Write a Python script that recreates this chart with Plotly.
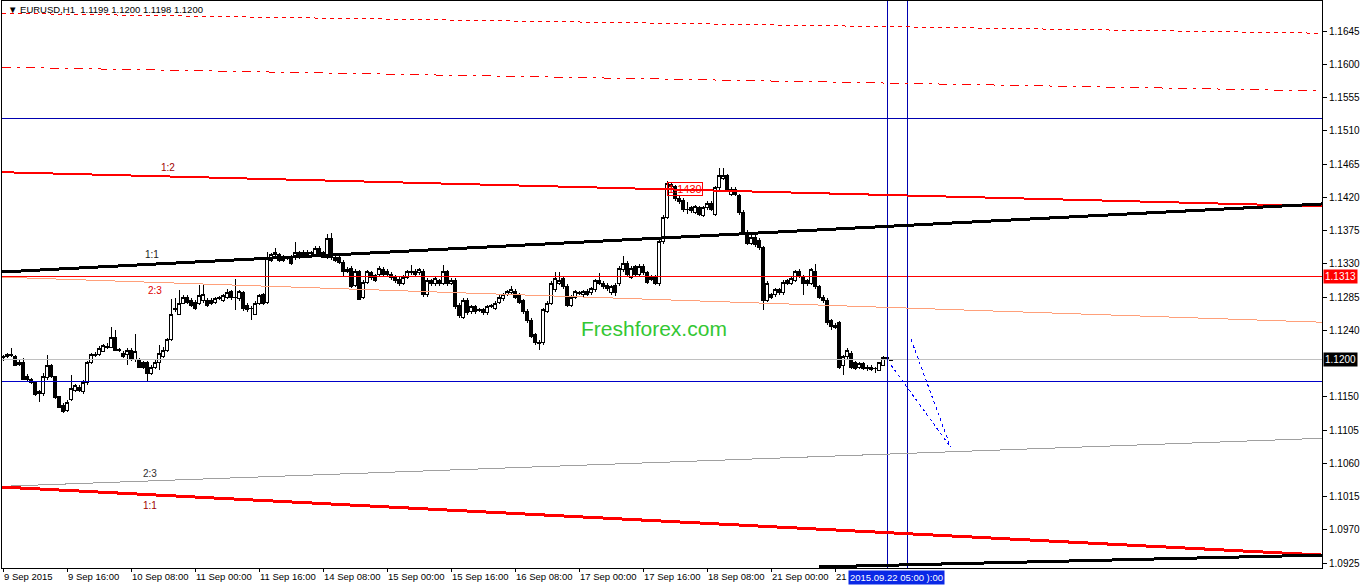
import plotly.graph_objects as go

# ---------------- data (EURUSD H1, bar index 0 = 9 Sep 2015 00:00) ----------------
opens = [
    1.1203, 1.1204, 1.1207, 1.1205, 1.1194, 1.1197, 1.1178, 1.1173, 1.1169, 1.1157,
    1.1154, 1.1176, 1.1193, 1.1177, 1.1150, 1.1139, 1.1132, 1.1146, 1.1159, 1.1163,
    1.1157, 1.1169, 1.1196, 1.1207, 1.1208, 1.1212, 1.1218, 1.1217, 1.1231, 1.1213,
    1.1209, 1.1208, 1.1213, 1.1200, 1.1200, 1.1196, 1.1196, 1.1182, 1.1190, 1.1196,
    1.1205, 1.1213, 1.1227, 1.1270, 1.1262, 1.1277, 1.1285, 1.1281, 1.1278, 1.1277,
    1.1280, 1.1281, 1.1281, 1.1278, 1.1284, 1.1281, 1.1285, 1.1292, 1.1285, 1.1283,
    1.1291, 1.1274, 1.1270, 1.1262, 1.1277, 1.1288, 1.1278, 1.1335, 1.1342, 1.1342,
    1.1339, 1.1338, 1.1339, 1.1338, 1.1345, 1.1342, 1.1346, 1.1345, 1.1342, 1.1351,
    1.1345, 1.1338, 1.1364, 1.1339, 1.1338, 1.1332, 1.1320, 1.1324, 1.1301, 1.1319,
    1.1285, 1.1305, 1.1318, 1.1314, 1.1315, 1.1323, 1.1320, 1.1316, 1.1312, 1.1309,
    1.1304, 1.1312, 1.1319, 1.1320, 1.1318, 1.1320, 1.1288, 1.1307, 1.1303, 1.1307,
    1.1304, 1.1319, 1.1304, 1.1308, 1.1274, 1.1258, 1.1281, 1.1265, 1.1272, 1.1268,
    1.1268, 1.1264, 1.1273, 1.1270, 1.1278, 1.1283, 1.1289, 1.1291, 1.1293, 1.1288,
    1.1280, 1.1266, 1.1254, 1.1234, 1.1223, 1.1223, 1.1265, 1.1277, 1.1295, 1.1304,
    1.1310, 1.1300, 1.1274, 1.1285, 1.1291, 1.1288, 1.1293, 1.1291, 1.1295, 1.1308,
    1.1304, 1.1301, 1.1291, 1.1301, 1.1303, 1.1322, 1.1331, 1.1312, 1.1326, 1.1315,
    1.1327, 1.1318, 1.1309, 1.1312, 1.1303, 1.1360, 1.1393, 1.1434, 1.1434, 1.1419,
    1.1416, 1.1404, 1.1406, 1.1400, 1.1406, 1.1396, 1.1406, 1.1412, 1.1397, 1.1433,
    1.1446, 1.1449, 1.1424, 1.1431, 1.1422, 1.1400, 1.1373, 1.1358, 1.1366, 1.1362,
    1.1352, 1.1281, 1.1288, 1.1288, 1.1295, 1.1291, 1.1307, 1.1304, 1.1308, 1.1320,
    1.1312, 1.1307, 1.1304, 1.1320, 1.1299, 1.1285, 1.1281, 1.1253, 1.1247, 1.1250,
    1.1192, 1.1204, 1.1209, 1.1196, 1.1190, 1.1195, 1.1190, 1.1190, 1.1189, 1.1186,
    1.1193, 1.1203, 1.1199,
]
highs = [
    1.1207, 1.1209, 1.1216, 1.1207, 1.1200, 1.1203, 1.1181, 1.1176, 1.1170, 1.1159,
    1.1182, 1.1207, 1.1195, 1.1178, 1.1151, 1.1142, 1.1146, 1.1180, 1.1168, 1.1166,
    1.1173, 1.1199, 1.1209, 1.1211, 1.1219, 1.1221, 1.1223, 1.1245, 1.1240, 1.1216,
    1.1212, 1.1216, 1.1216, 1.1235, 1.1203, 1.1199, 1.1199, 1.1193, 1.1200, 1.1220,
    1.1217, 1.1230, 1.1283, 1.1284, 1.1295, 1.1288, 1.1288, 1.1284, 1.1281, 1.1301,
    1.1301, 1.1284, 1.1284, 1.1285, 1.1286, 1.1289, 1.1296, 1.1295, 1.1310, 1.1295,
    1.1293, 1.1277, 1.1273, 1.1280, 1.1289, 1.1291, 1.1346, 1.1345, 1.1351, 1.1345,
    1.1342, 1.1341, 1.1342, 1.1360, 1.1347, 1.1349, 1.1349, 1.1347, 1.1354, 1.1354,
    1.1347, 1.1370, 1.1372, 1.1342, 1.1341, 1.1335, 1.1326, 1.1327, 1.1323, 1.1322,
    1.1308, 1.1322, 1.1320, 1.1316, 1.1327, 1.1326, 1.1323, 1.1319, 1.1315, 1.1312,
    1.1315, 1.1322, 1.1328, 1.1323, 1.1324, 1.1323, 1.1311, 1.1310, 1.1312, 1.1310,
    1.1328, 1.1322, 1.1311, 1.1311, 1.1277, 1.1284, 1.1284, 1.1274, 1.1274, 1.1270,
    1.1270, 1.1274, 1.1276, 1.1280, 1.1288, 1.1291, 1.1295, 1.1300, 1.1296, 1.1291,
    1.1283, 1.1269, 1.1257, 1.1236, 1.1227, 1.1270, 1.1280, 1.1307, 1.1319, 1.1319,
    1.1312, 1.1303, 1.1288, 1.1295, 1.1293, 1.1295, 1.1296, 1.1299, 1.1310, 1.1317,
    1.1307, 1.1304, 1.1301, 1.1304, 1.1327, 1.1341, 1.1334, 1.1327, 1.1328, 1.1330,
    1.1330, 1.1320, 1.1315, 1.1315, 1.1362, 1.1396, 1.1442, 1.1441, 1.1437, 1.1422,
    1.1419, 1.1414, 1.1408, 1.1410, 1.1408, 1.1408, 1.1415, 1.1415, 1.1435, 1.1460,
    1.1460, 1.1452, 1.1434, 1.1434, 1.1424, 1.1403, 1.1376, 1.1369, 1.1369, 1.1365,
    1.1354, 1.1307, 1.1291, 1.1297, 1.1297, 1.1308, 1.1310, 1.1312, 1.1322, 1.1323,
    1.1315, 1.1310, 1.1324, 1.1330, 1.1301, 1.1288, 1.1284, 1.1255, 1.1250, 1.1253,
    1.1207, 1.1216, 1.1212, 1.1199, 1.1197, 1.1197, 1.1193, 1.1193, 1.1191, 1.1197,
    1.1205, 1.1207, 1.1200,
]
lows = [
    1.1199, 1.1203, 1.1204, 1.1192, 1.1192, 1.1173, 1.1171, 1.1167, 1.1151, 1.1143,
    1.1151, 1.1173, 1.1176, 1.1147, 1.1135, 1.1128, 1.1130, 1.1144, 1.1157, 1.1157,
    1.1154, 1.1166, 1.1195, 1.1204, 1.1205, 1.1211, 1.1215, 1.1216, 1.1212, 1.1211,
    1.1203, 1.1193, 1.1199, 1.1197, 1.1189, 1.1188, 1.1170, 1.1180, 1.1188, 1.1186,
    1.1203, 1.1211, 1.1226, 1.1265, 1.1261, 1.1276, 1.1276, 1.1272, 1.1268, 1.1274,
    1.1277, 1.1272, 1.1274, 1.1276, 1.1281, 1.1278, 1.1283, 1.1281, 1.1268, 1.1280,
    1.1266, 1.1265, 1.1254, 1.1261, 1.1274, 1.1274, 1.1276, 1.1332, 1.1339, 1.1332,
    1.1332, 1.1335, 1.1328, 1.1335, 1.1337, 1.1339, 1.1339, 1.1342, 1.1339, 1.1339,
    1.1338, 1.1337, 1.1335, 1.1332, 1.1330, 1.1312, 1.1318, 1.1297, 1.1299, 1.1281,
    1.1282, 1.1303, 1.1308, 1.1305, 1.1312, 1.1312, 1.1312, 1.1308, 1.1304, 1.1300,
    1.1301, 1.1309, 1.1315, 1.1312, 1.1315, 1.1285, 1.1285, 1.1300, 1.1300, 1.1300,
    1.1301, 1.1300, 1.1301, 1.1269, 1.1257, 1.1256, 1.1261, 1.1262, 1.1262, 1.1265,
    1.1261, 1.1261, 1.1270, 1.1268, 1.1276, 1.1280, 1.1287, 1.1288, 1.1283, 1.1276,
    1.1262, 1.1250, 1.1230, 1.1220, 1.1213, 1.1220, 1.1263, 1.1274, 1.1292, 1.1301,
    1.1296, 1.1272, 1.1272, 1.1282, 1.1288, 1.1285, 1.1287, 1.1288, 1.1292, 1.1301,
    1.1296, 1.1293, 1.1288, 1.1286, 1.1300, 1.1319, 1.1312, 1.1310, 1.1312, 1.1312,
    1.1315, 1.1303, 1.1307, 1.1301, 1.1300, 1.1357, 1.1391, 1.1431, 1.1415, 1.1411,
    1.1400, 1.1397, 1.1399, 1.1397, 1.1395, 1.1393, 1.1403, 1.1401, 1.1395, 1.1430,
    1.1443, 1.1427, 1.1422, 1.1422, 1.1396, 1.1369, 1.1356, 1.1356, 1.1353, 1.1349,
    1.1268, 1.1278, 1.1283, 1.1285, 1.1288, 1.1288, 1.1301, 1.1301, 1.1305, 1.1311,
    1.1288, 1.1300, 1.1301, 1.1296, 1.1283, 1.1277, 1.1247, 1.1240, 1.1242, 1.1188,
    1.1180, 1.1201, 1.1188, 1.1186, 1.1188, 1.1186, 1.1185, 1.1185, 1.1182, 1.1185,
    1.1192, 1.1199, 1.1198,
]
closes = [
    1.1204, 1.1207, 1.1206, 1.1193, 1.1196, 1.1174, 1.1174, 1.1169, 1.1153, 1.1155,
    1.1178, 1.1193, 1.1177, 1.1149, 1.1136, 1.1130, 1.1143, 1.1162, 1.1165, 1.1159,
    1.1169, 1.1196, 1.1207, 1.1206, 1.1216, 1.1219, 1.1217, 1.1231, 1.1213, 1.1214,
    1.1205, 1.1213, 1.1200, 1.1211, 1.1190, 1.1190, 1.1182, 1.1190, 1.1197, 1.1209,
    1.1213, 1.1227, 1.1262, 1.1268, 1.1277, 1.1285, 1.1278, 1.1274, 1.1270, 1.1287,
    1.1289, 1.1274, 1.1277, 1.1283, 1.1283, 1.1287, 1.1291, 1.1284, 1.1284, 1.1292,
    1.1269, 1.1268, 1.1269, 1.1277, 1.1287, 1.1277, 1.1339, 1.1342, 1.1346, 1.1335,
    1.1335, 1.1337, 1.1330, 1.1345, 1.1339, 1.1346, 1.1342, 1.1344, 1.1351, 1.1342,
    1.1339, 1.1364, 1.1338, 1.1335, 1.1332, 1.1319, 1.1323, 1.1300, 1.1320, 1.1282,
    1.1305, 1.1319, 1.1311, 1.1308, 1.1324, 1.1315, 1.1315, 1.1311, 1.1307, 1.1304,
    1.1312, 1.1319, 1.1318, 1.1315, 1.1322, 1.1288, 1.1308, 1.1303, 1.1310, 1.1303,
    1.1319, 1.1303, 1.1308, 1.1272, 1.1260, 1.1281, 1.1264, 1.1272, 1.1265, 1.1267,
    1.1264, 1.1272, 1.1272, 1.1277, 1.1285, 1.1288, 1.1292, 1.1295, 1.1285, 1.1278,
    1.1265, 1.1253, 1.1232, 1.1223, 1.1222, 1.1268, 1.1277, 1.1304, 1.1310, 1.1308,
    1.1299, 1.1274, 1.1285, 1.1292, 1.1290, 1.1292, 1.1289, 1.1296, 1.1307, 1.1304,
    1.1299, 1.1296, 1.1299, 1.1291, 1.1324, 1.1331, 1.1315, 1.1324, 1.1315, 1.1327,
    1.1318, 1.1305, 1.1312, 1.1304, 1.1360, 1.1393, 1.1439, 1.1438, 1.1418, 1.1414,
    1.1403, 1.1403, 1.1402, 1.1407, 1.1397, 1.1406, 1.1412, 1.1404, 1.1433, 1.1449,
    1.1449, 1.1430, 1.1431, 1.1424, 1.1399, 1.1372, 1.1358, 1.1366, 1.1356, 1.1352,
    1.1281, 1.1304, 1.1285, 1.1295, 1.1291, 1.1305, 1.1304, 1.1310, 1.1319, 1.1314,
    1.1304, 1.1303, 1.1322, 1.1299, 1.1285, 1.1280, 1.1250, 1.1245, 1.1244, 1.1190,
    1.1204, 1.1213, 1.1190, 1.1189, 1.1195, 1.1189, 1.1188, 1.1187, 1.1188, 1.1196,
    1.1203, 1.1200, 1.1200,
]

# time-axis labels (bar index where each label starts); last one is mostly hidden in the reference
time_label_bars = [0, 16, 32, 48, 64, 80, 96, 112, 128, 144, 160, 176, 192, 208]
time_labels = ["9 Sep 2015", "9 Sep 16:00", "10 Sep 08:00", "11 Sep 00:00", "11 Sep 16:00",
               "14 Sep 08:00", "15 Sep 00:00", "15 Sep 16:00", "16 Sep 08:00", "17 Sep 00:00",
               "17 Sep 16:00", "18 Sep 08:00", "21 Sep 00:00", "21"]
cursor_time_label = "2015.09.22 05:00 ):00"
cursor_label_bar = 211.25

# price-axis ticks
price_ticks = [1.0925, 1.0970, 1.1015, 1.1060, 1.1105, 1.1150, 1.1240, 1.1285,
               1.1330, 1.1375, 1.1420, 1.1465, 1.1510, 1.1555, 1.1600, 1.1645]
price_tick_text = ["1.0925", "1.0970", "1.1015", "1.1060", "1.1105", "1.1150", "1.1240",
                   "1.1285", "1.1330", "1.1375", "1.1420", "1.1465", "1.1510", "1.1555",
                   "1.1600", "1.1645"]

# trend / channel lines: (bar0, price0, bar1, price1)
channel_12_upper = (-0.25, 1.1454, 329.75, 1.1408)
channel_11_upper = (-0.25, 1.1319, 329.75, 1.1411)
channel_23_upper = (-0.25, 1.1312, 329.75, 1.1251)
channel_23_lower = (-0.25, 1.1029, 329.75, 1.1094)
channel_11_lower = (-0.25, 1.1028, 329.75, 1.0936)
support_bottom = (204.0, 1.0920, 329.75, 1.0936)
far_dashed = (-0.25, 1.1669, 329.75, 1.1642)
far_dashdot = (-0.25, 1.1596, 329.75, 1.1564)
forecast_a = (222.0, 1.1193, 236.9, 1.1082)
forecast_b = (227.0, 1.1228, 236.9, 1.1082)

level_blue_high = 1.1526
level_blue_low = 1.11715
level_red = 1.1313
bid_price = 1.1200
vline_bars = [221, 226]
marked_high_label = "1.1430"
marked_high_bar = 166
marked_high_price = 1.1431

X_RANGE = [-0.25, 329.75]
Y_RANGE = [1.09185, 1.16856]

BLUE = "#0000B0"
FONT = "Liberation Sans, Arial, sans-serif"

fig = go.Figure()


def seg(line, color, width, dash="solid"):
    x0, p0, x1, p1 = line
    fig.add_trace(go.Scatter(x=[x0, x1], y=[p0, p1], mode="lines",
                             line=dict(color=color, width=width, dash=dash),
                             hoverinfo="skip", showlegend=False))


# horizontal / vertical object lines
for lvl, col in [(level_blue_high, BLUE), (level_blue_low, "#0000C8"), (level_red, "#FF0000"),
                 (bid_price, "#C0C0C0")]:
    seg((X_RANGE[0], lvl, X_RANGE[1], lvl), col, 1)
for vb in vline_bars:
    fig.add_trace(go.Scatter(x=[vb, vb], y=Y_RANGE, mode="lines", line=dict(color=BLUE, width=1),
                             hoverinfo="skip", showlegend=False))

seg(far_dashed, "#FF0000", 1, "4px,4px")
seg(far_dashdot, "#FF0000", 1, "9px,6px,3px,6px")
seg(channel_23_upper, "#FFA07A", 1)
seg(channel_23_lower, "#A0A0A0", 1)
seg(channel_12_upper, "#FF0000", 2)
seg(channel_11_upper, "#000000", 3)
seg(channel_11_lower, "#FF0000", 3)
seg(support_bottom, "#000000", 3)
seg(forecast_a, "#0000FF", 1, "dot")
seg(forecast_b, "#0000FF", 1, "dot")

bars = list(range(len(closes)))
fig.add_trace(go.Candlestick(
    x=bars, open=opens, high=highs, low=lows, close=closes,
    increasing=dict(line=dict(color="#000000", width=1), fillcolor="#FFFFFF"),
    decreasing=dict(line=dict(color="#000000", width=1), fillcolor="#000000"),
    whiskerwidth=0, hoverinfo="skip", showlegend=False,
))

annotations = []
# channel ratio labels
for txt, xb, pr, col in [("1:2", 41.25, 1.1461, "#A00000"), ("1:1", 37.25, 1.1342, "#202020"),
                         ("2:3", 38.0, 1.12933, "#E00000"), ("2:3", 36.75, 1.1047, "#303030"),
                         ("1:1", 36.75, 1.10037, "#A00000")]:
    annotations.append(dict(x=xb, y=pr, xref="x", yref="y", text=txt, showarrow=False,
                            font=dict(family=FONT, size=10, color=col)))

# watermark
annotations.append(dict(x=162.75, y=1.12432, xref="x", yref="y", text="Freshforex.com",
                        showarrow=False, font=dict(family=FONT, size=21, color="#33C733")))

# marked high label
annotations.append(dict(x=marked_high_bar, y=marked_high_price, xref="x", yref="y",
                        text=marked_high_label, showarrow=False, xanchor="left",
                        font=dict(family=FONT, size=11, color="#FF0000"),
                        bordercolor="#FF0000", borderwidth=1, borderpad=0))

# title
annotations.append(dict(x=0, y=1, xref="paper", yref="paper", xanchor="left", yanchor="top",
                        xshift=4, yshift=-1, showarrow=False,
                        text="\u25bc EURUSD,H1  1.1199 1.1200 1.1198 1.1200",
                        font=dict(family=FONT, size=9.5, color="#000000")))

# time labels
for b, t in zip(time_label_bars, time_labels):
    annotations.append(dict(x=b, y=0, xref="x", yref="paper", xanchor="left", yanchor="top",
                            xshift=-1, yshift=-1, showarrow=False, text=t,
                            font=dict(family=FONT, size=9.5, color="#000000")))

# cursor time box
annotations.append(dict(x=cursor_label_bar, y=0, xref="x", yref="paper", xanchor="left",
                        yanchor="top", yshift=-2, showarrow=False, text=cursor_time_label,
                        bgcolor="#0A28E6", borderpad=1,
                        font=dict(family=FONT, size=9.5, color="#FFFFFF")))

# price boxes on the axis
for pr, bg in [(level_red, "#FF0000"), (bid_price, "#000000")]:
    annotations.append(dict(x=1, y=pr, xref="paper", yref="y", xanchor="left", yanchor="middle",
                            xshift=1, showarrow=False, text=f"{pr:.4f}", bgcolor=bg,
                            borderpad=1, font=dict(family=FONT, size=10, color="#FFFFFF")))

fig.update_layout(
    width=1362, height=586,
    margin=dict(l=2, r=40, t=1, b=18),
    paper_bgcolor="#FFFFFF", plot_bgcolor="#FFFFFF",
    showlegend=False, boxgap=0.05,
    annotations=annotations,
    xaxis=dict(range=X_RANGE, showgrid=False, zeroline=False, showline=True, mirror=True,
               linecolor="#000000", linewidth=1, tickvals=time_label_bars,
               showticklabels=False, ticks="outside", ticklen=3, tickcolor="#000000",
               rangeslider=dict(visible=False), fixedrange=True),
    yaxis=dict(range=Y_RANGE, side="right", showgrid=False, zeroline=False, showline=True,
               mirror=True, linecolor="#000000", linewidth=1, tickvals=price_ticks,
               ticktext=price_tick_text, ticks="outside", ticklen=4, tickcolor="#000000",
               tickfont=dict(family=FONT, size=10, color="#000000"), fixedrange=True),
)

post_js = (
    "document.body.style.margin='0px';"
    "document.querySelectorAll('.scatterlayer path, .boxlayer path')"
    ".forEach(function(p){p.style.shapeRendering='crispEdges';});"
)
fig.write_html("out.html", config={"displayModeBar": False}, post_script=post_js)
